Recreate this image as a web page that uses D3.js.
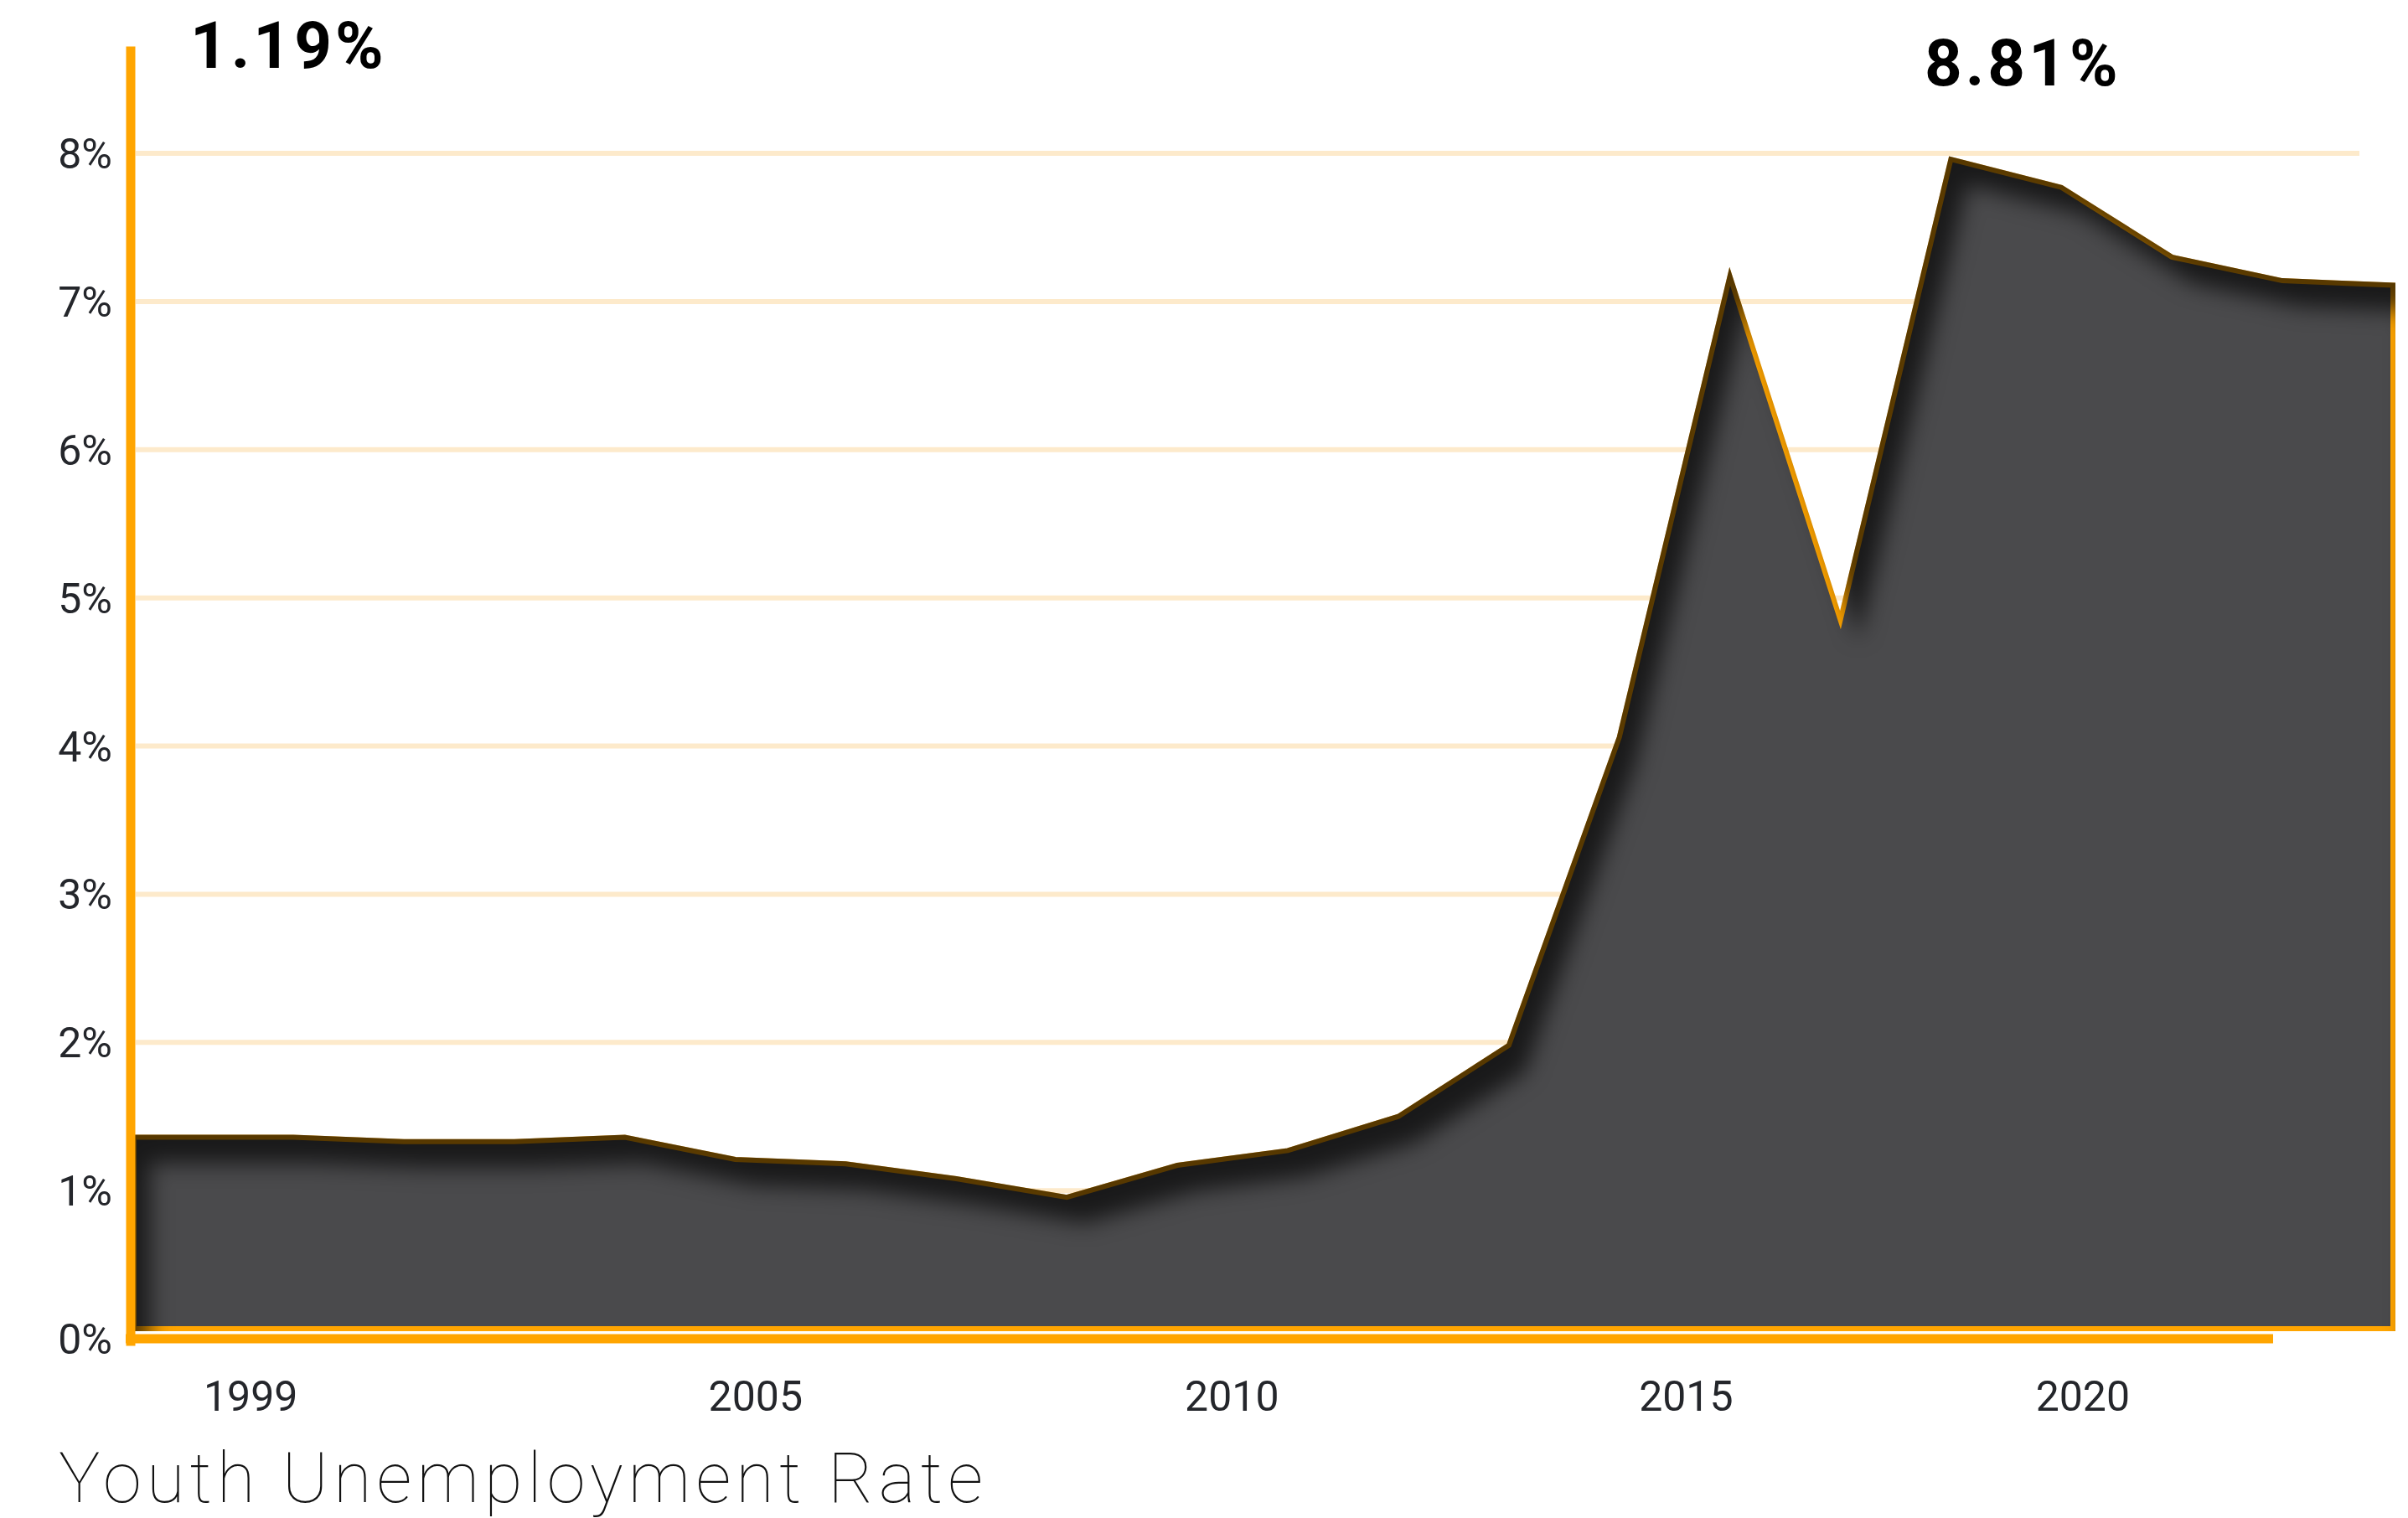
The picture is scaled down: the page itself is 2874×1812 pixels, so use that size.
<!DOCTYPE html>
<html><head><meta charset="utf-8">
<script src="https://cdn.jsdelivr.net/npm/d3@7"></script>
<style>html,body{margin:0;padding:0;background:#fff;} svg{display:block;}</style>
</head><body><svg id="chart" width="2874" height="1812"></svg>
<script>
// ---- data (in % on the grid scale) ----
const rates = [1.36, 1.36, 1.33, 1.33, 1.36, 1.21, 1.18, 1.08, 0.955, 1.17, 1.27, 1.50, 1.98, 4.06, 7.17, 4.85, 7.96, 7.77, 7.30, 7.14, 7.11];
const yTicks = [0, 1, 2, 3, 4, 5, 6, 7, 8];
const xTickLabels = ['1999', '2005', '2010', '2015', '2020'];
const xTickAt = [0.73, 5.18, 9.49, 13.60, 17.19];   // label positions in data-point index units
const annotations = ['1.19%', '8.81%'];
const title = 'Youth Unemployment Rate';

// ---- layout ----
const W = 2874, H = 1812;
const svg = d3.select('#chart');
const orange = '#ffa500';

const x = d3.scaleLinear().domain([0, 1, rates.length - 1]).range([160, 350, 2856]);
const y = d3.scaleLinear().domain([0, 8]).range([1598, 183]);
const baseInset = 12;

// filter: inner shadow from top-left
const defs = svg.append('defs');
const f = defs.append('filter').attr('id', 'inner')
  .attr('color-interpolation-filters', 'sRGB')
  .attr('filterUnits', 'userSpaceOnUse').attr('x', 0).attr('y', 0).attr('width', W).attr('height', H);
f.append('feOffset').attr('in', 'SourceAlpha').attr('dx', 22).attr('dy', 34).attr('result', 'off');
f.append('feGaussianBlur').attr('in', 'off').attr('stdDeviation', 13).attr('result', 'ob');
f.append('feComposite').attr('in', 'SourceAlpha').attr('in2', 'ob').attr('operator', 'out').attr('result', 'mask');
f.append('feFlood').attr('flood-color', '#000').attr('flood-opacity', 0.66).attr('result', 'fl');
f.append('feComposite').attr('in', 'fl').attr('in2', 'mask').attr('operator', 'in').attr('result', 'sh');
const fm = f.append('feMerge');
fm.append('feMergeNode').attr('in', 'SourceGraphic');
fm.append('feMergeNode').attr('in', 'sh');

// gridlines
svg.append('g').selectAll('line').data(yTicks.filter(d => d > 0)).join('line')
  .attr('x1', 162).attr('x2', 2816)
  .attr('y1', d => y(d)).attr('y2', d => y(d))
  .attr('stroke', '#fdeacb').attr('stroke-width', 6);

// area
const area = d3.area()
  .x((d, i) => x(i))
  .y0(y(0) - baseInset)
  .y1(d => y(d))
  .curve(d3.curveLinear);

svg.append('path').datum(rates)
  .attr('d', area)
  .attr('fill', '#4a4a4c')
  .attr('stroke', orange)
  .attr('stroke-width', 6)
  .attr('stroke-linejoin', 'miter')
  .attr('stroke-miterlimit', 12)
  .attr('filter', 'url(#inner)');

// axes lines
svg.append('line').attr('x1', 156).attr('x2', 156).attr('y1', 61).attr('y2', y(0) + 3)
  .attr('stroke', orange).attr('stroke-width', 11).attr('stroke-linecap', 'square');
svg.append('line').attr('x1', 150).attr('x2', 2713).attr('y1', y(0)).attr('y2', y(0))
  .attr('stroke', orange).attr('stroke-width', 11);

// y axis labels
const yAxis = d3.axisLeft(y).tickValues(yTicks).tickFormat(d => d + '%').tickSize(0).tickPadding(0);
const gy = svg.append('g').attr('transform', 'translate(134,0)').call(yAxis);
gy.select('.domain').remove();
gy.selectAll('text').attr('font-family', 'Roboto, sans-serif').attr('font-size', 50)
  .attr('fill', '#24262b').attr('dy', '0.35em');

// x axis labels
const xAxis = d3.axisBottom(x).tickValues(xTickAt).tickFormat((d, i) => xTickLabels[i]).tickSize(0).tickPadding(0);
const gx = svg.append('g').attr('transform', 'translate(0,1684)').call(xAxis);
gx.select('.domain').remove();
gx.selectAll('text').attr('font-family', 'Roboto, sans-serif').attr('font-size', 50)
  .attr('fill', '#24262b').attr('dy', 0).attr('y', 0);

// annotations
svg.append('text').attr('x', 227).attr('y', 81).text(annotations[0])
  .attr('font-family', 'Roboto, sans-serif').attr('font-weight', 700).attr('font-size', 78)
  .attr('letter-spacing', 4).attr('fill', '#000');
svg.append('text').attr('x', 2297).attr('y', 102).text(annotations[1])
  .attr('font-family', 'Roboto, sans-serif').attr('font-weight', 700).attr('font-size', 78)
  .attr('letter-spacing', 4).attr('fill', '#000');

// title
const t = svg.append('text').attr('x', 70).attr('y', 1793).text(title)
  .attr('font-family', 'Roboto, sans-serif').attr('font-weight', 100).attr('font-size', 83)
  .attr('fill', '#111');
const len = t.node().getComputedTextLength();
t.attr('letter-spacing', Math.max(0, (1103 - len) / (title.length - 1)));
</script>
</body></html>
